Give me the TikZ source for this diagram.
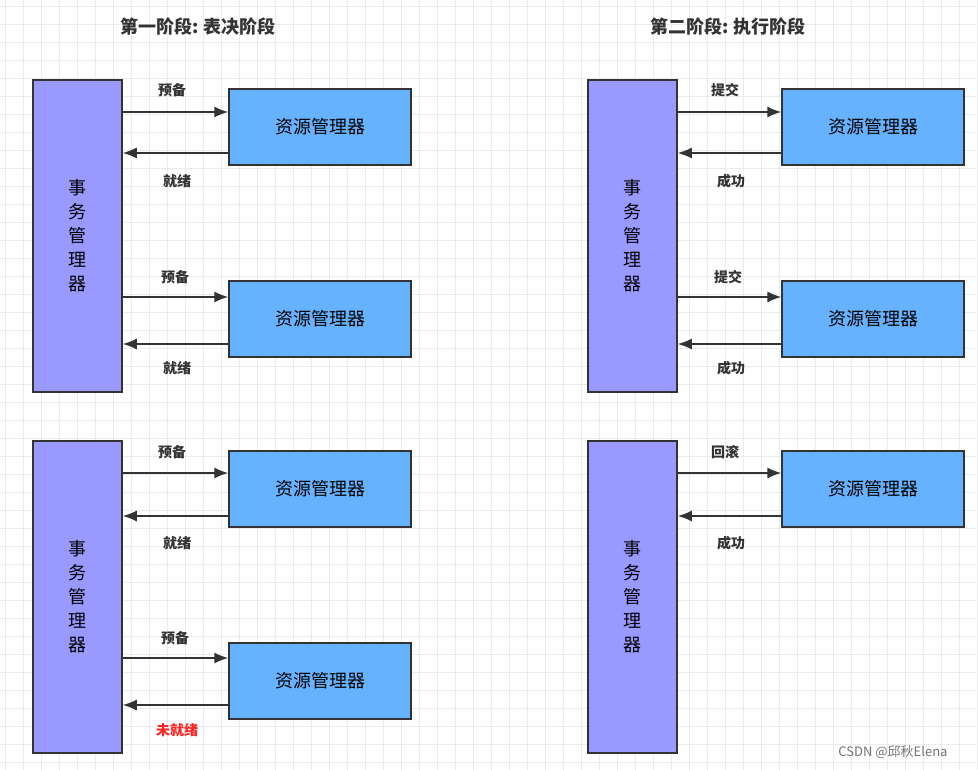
\documentclass[tikz,border=0pt]{standalone}
\usepackage{fontspec}
\setmainfont{Noto Sans CJK SC}
\usepackage{tikz}
\usetikzlibrary{arrows.meta}
\definecolor{tmfill}{HTML}{9999FF}
\definecolor{rmfill}{HTML}{66B2FF}
\definecolor{edge}{HTML}{333333}
\tikzset{
  tm/.style={draw=edge, line width=1.5pt, fill=tmfill, minimum width=89pt, minimum height=312pt, align=center, inner sep=0pt, font=\fontsize{18}{24}\selectfont},
  rm/.style={draw=edge, line width=1.5pt, fill=rmfill, minimum width=182pt, minimum height=76pt, font=\fontsize{18}{20}\selectfont},
  msg/.style={draw=edge, line width=1.5pt, -{Latex[length=14pt,width=11pt]}},
  lbl/.style={font=\bfseries\fontsize{14}{16}\selectfont, text=edge},
}
\begin{document}
\begin{tikzpicture}[x=1pt,y=-1pt]
\useasboundingbox (0,0) rectangle (978,770);
%%%%%GRID%%%%%
\fill[white] (0,0) rectangle (978,770);
\foreach \g in {0,18,...,978} \draw[black!8, line width=0.6pt] (\g+5,0) -- (\g+5,770);
\foreach \g in {0,18,...,770} \draw[black!8, line width=0.6pt] (0,\g+6) -- (978,\g+6);

%%%%%TITLES%%%%%
\node[font=\bfseries\fontsize{18}{20}\selectfont, text=edge] (t1) at (198,27) {第一阶段: 表决阶段};
\node[font=\bfseries\fontsize{18}{20}\selectfont, text=edge] (t2) at (728,27) {第二阶段: 执行阶段};

%%%%%TRANSACTION MANAGERS%%%%%
\node[tm] (tmA) at (77.5,236) {事\\务\\管\\理\\器};
\node[tm] (tmB) at (77.5,597) {事\\务\\管\\理\\器};
\node[tm] (tmC) at (632.5,236) {事\\务\\管\\理\\器};
\node[tm] (tmD) at (632.5,597) {事\\务\\管\\理\\器};

%%%%%RESOURCE MANAGERS%%%%%
\node[rm] (rmA1) at (320,127) {资源管理器};
\node[rm] (rmA2) at (320,319) {资源管理器};
\node[rm] (rmB1) at (320,489) {资源管理器};
\node[rm] (rmB2) at (320,681) {资源管理器};
\node[rm] (rmC1) at (873,127) {资源管理器};
\node[rm] (rmC2) at (873,319) {资源管理器};
\node[rm] (rmD1) at (873,489) {资源管理器};

%%%%%MESSAGES%%%%%
\draw[msg] (tmA.east |- 0,112) -- (rmA1.west |- 0,112);
\draw[msg] (rmA1.west |- 0,153) -- (tmA.east |- 0,153);
\draw[msg] (tmA.east |- 0,297) -- (rmA2.west |- 0,297);
\draw[msg] (rmA2.west |- 0,344) -- (tmA.east |- 0,344);
\draw[msg] (tmB.east |- 0,473) -- (rmB1.west |- 0,473);
\draw[msg] (rmB1.west |- 0,516) -- (tmB.east |- 0,516);
\draw[msg] (tmB.east |- 0,658) -- (rmB2.west |- 0,658);
\draw[msg] (rmB2.west |- 0,705) -- (tmB.east |- 0,705);
\draw[msg] (tmC.east |- 0,112) -- (rmC1.west |- 0,112);
\draw[msg] (rmC1.west |- 0,153) -- (tmC.east |- 0,153);
\draw[msg] (tmC.east |- 0,297) -- (rmC2.west |- 0,297);
\draw[msg] (rmC2.west |- 0,344) -- (tmC.east |- 0,344);
\draw[msg] (tmD.east |- 0,473) -- (rmD1.west |- 0,473);
\draw[msg] (rmD1.west |- 0,516) -- (tmD.east |- 0,516);

%%%%%LABELS%%%%%
\node[lbl] (la1) at (172,90) {预备};
\node[lbl] (la2) at (177,181) {就绪};
\node[lbl] (la3) at (175,277) {预备};
\node[lbl] (la4) at (177,368) {就绪};
\node[lbl] (lb1) at (172,452) {预备};
\node[lbl] (lb2) at (177,543) {就绪};
\node[lbl] (lb3) at (175,638) {预备};
\node[lbl, text=red!85!white] (lb4) at (177,730) {未就绪};
\node[lbl] (lc1) at (725,90) {提交};
\node[lbl] (lc2) at (731,181) {成功};
\node[lbl] (lc3) at (728,277) {提交};
\node[lbl] (lc4) at (731,368) {成功};
\node[lbl] (ld1) at (725,452) {回滚};
\node[lbl] (ld2) at (731,543) {成功};

\node[font=\fontsize{13}{15}\selectfont, text=black!55] (wm) at (893,752) {CSDN @邱秋Elena};
\end{tikzpicture}
\end{document}
